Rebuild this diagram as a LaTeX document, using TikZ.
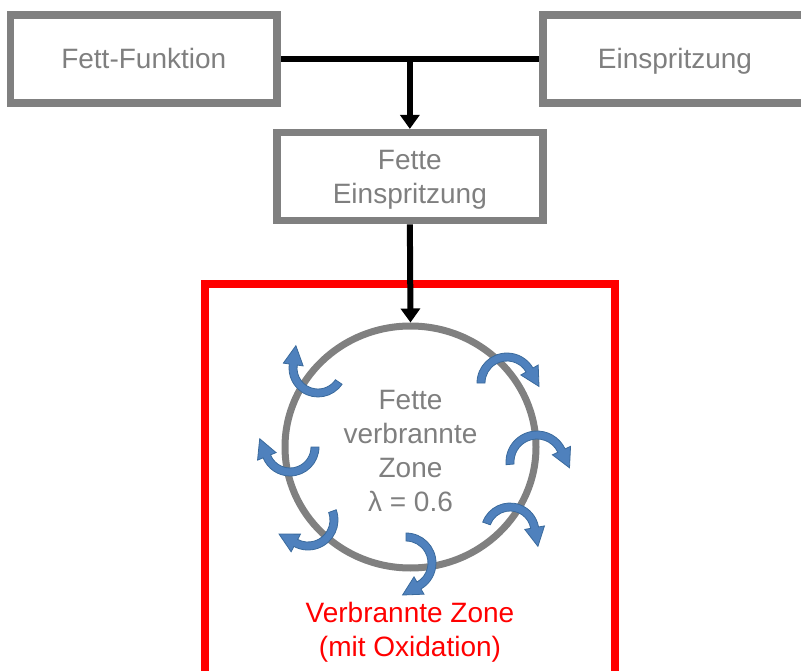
\documentclass[tikz,border=0pt]{standalone}
\usepackage{fontspec}
\setmainfont{Liberation Sans}
\usetikzlibrary{arrows.meta,shapes.geometric}
\definecolor{boxgray}{HTML}{808080}
\definecolor{txtgray}{HTML}{7F7F7F}
\definecolor{swirlblue}{HTML}{4F81BD}
\definecolor{swirledge}{HTML}{3A6A9C}

% curved block arrow: #1,#2 centre (x, y measured downwards), #3 radius,
% #4 start angle, #5 end angle (arrow head), #6 head direction offset (+90 ccw, -90 cw)
\newcommand\swirl[6]{%
  \pgfmathsetmacro\swtipx{#3*cos(#5)+19*cos(#5+(#6))}%
  \pgfmathsetmacro\swtipy{#3*sin(#5)+19*sin(#5+(#6))}%
  \begin{scope}[shift={(#1,-#2)}]
    \filldraw[swirl] (#4:{#3+4}) arc[start angle=#4, end angle=#5, radius={#3+4}]
      -- (#5:{#3+10}) -- (\swtipx,\swtipy) -- (#5:{#3-10}) -- (#5:{#3-4})
      arc[start angle=#5, end angle=#4, radius={#3-4}] -- cycle;
  \end{scope}}

\begin{document}
\begin{tikzpicture}[x=1pt,y=1pt,
  every node/.style={font=\fontsize{28}{34}\selectfont},
  stepbox/.style={draw=boxgray, line width=7.6pt, text=txtgray, align=center,
    inner sep=0pt, minimum height=88pt, text depth=0pt},
  link/.style={line width=6pt, draw=black},
  flow/.style={link, -{Triangle[length=14pt,width=19pt]}},
  zonebox/.style={draw=red, line width=8pt, minimum width=410pt, minimum height=400pt},
  burnt/.style={ellipse, draw=boxgray, line width=7pt, minimum width=251pt,
    minimum height=242pt, inner sep=0pt},
  swirl/.style={fill=swirlblue, draw=swirledge, line width=0.8pt}]

\clip (0,0) rectangle (801,-671);

% input boxes
\node[stepbox, minimum width=266.5pt] (fett) at (143.75,-58.75) {Fett-Funktion};
\node[stepbox, minimum width=264pt] (einsp) at (675,-58.75) {Einspritzung};
\node[stepbox, minimum width=266.3pt, minimum height=87.8pt] (fette) at (409.85,-176.6) {Fette\\Einspritzung};

% burnt zone frame and rich zone
\node[zonebox] (zone) at (410,-484) {};
\node[burnt] (circ) at (410.5,-447) {};
\node[text=txtgray, align=center] (circtxt) at (410.5,-451.5) {Fette\\verbrannte\\Zone\\λ = 0.6};
\node[text=red, align=center] (lbl) at (410,-632) {Verbrannte Zone\\(mit Oxidation)};

% connectors
\draw[link] (fett.east) -- (einsp.west);
\coordinate (jn) at (fette.north |- fett.east);
\draw[flow] (jn) -- (fette.north);
\draw[flow] (fette.south) -- (circ.north);

% oxidation swirls around the rich zone
\swirl{318}{368}{25}{-34}{-188}{-90}
\swirl{290}{447}{25}{0}{-158}{-90}
\swirl{308}{520}{26}{20}{-118}{-90}
\swirl{507}{383}{26}{180}{30}{-90}
\swirl{537}{462}{27}{185}{25}{-90}
\swirl{510}{532}{25}{160}{10}{-90}
\swirl{406}{563}{26}{90}{-60}{-90}
\end{tikzpicture}
\end{document}
